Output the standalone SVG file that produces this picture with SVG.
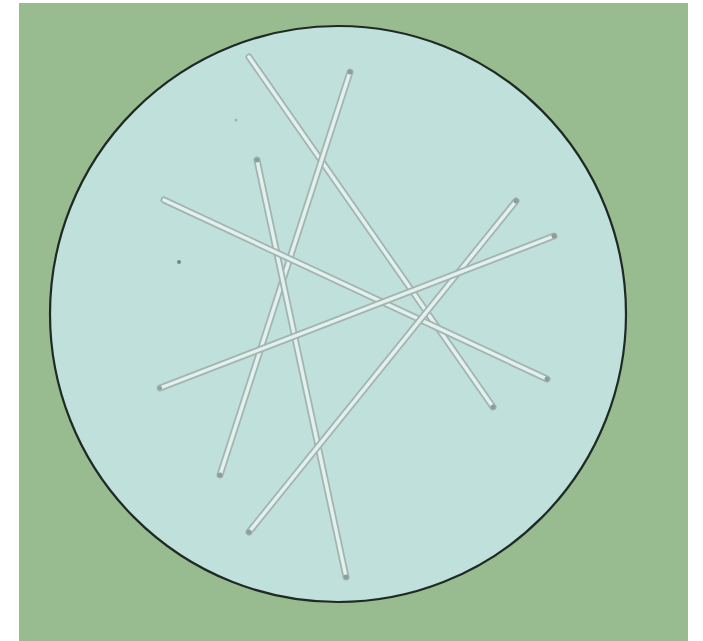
<svg xmlns="http://www.w3.org/2000/svg" width="703" height="641" viewBox="0 0 703 641">
<style>
.o{stroke:#a3b5b1;stroke-width:7;stroke-linecap:round}
.i{stroke:#e2f0ee;stroke-width:3.4;stroke-linecap:round}
.e{fill:#8a9e9a}
</style>
<rect width="703" height="641" fill="#ffffff"/>
<rect x="19" y="3" width="669" height="638" fill="#98bc8f"/>
<g id="plate">
<circle cx="338" cy="314" r="288" fill="#c0e0dc" stroke="#1f2a24" stroke-width="2.2"/>
<circle cx="236" cy="120" r="1.5" fill="#9fb5b0"/>
<circle cx="179" cy="262" r="2" fill="#6d8a84"/>
</g>
<g id="sticks">
<g id="s1"><line class="o" x1="249" y1="57" x2="493" y2="407"/><line class="i" x1="249" y1="57" x2="493" y2="407"/><circle class="e" cx="493" cy="407" r="2.5"/></g>
<g id="s2"><line class="o" x1="350" y1="72" x2="220" y2="475"/><line class="i" x1="350" y1="72" x2="220" y2="475"/><circle class="e" cx="350" cy="72" r="2.5"/><circle class="e" cx="220" cy="475" r="2.5"/></g>
<g id="s3"><line class="o" x1="257" y1="160" x2="346" y2="577"/><line class="i" x1="257" y1="160" x2="346" y2="577"/><circle class="e" cx="257" cy="160" r="2.5"/><circle class="e" cx="346" cy="577" r="2.5"/></g>
<g id="s4"><line class="o" x1="164" y1="200" x2="547" y2="379"/><line class="i" x1="164" y1="200" x2="547" y2="379"/><circle class="e" cx="547" cy="379" r="2.5"/></g>
<g id="s5"><line class="o" x1="516" y1="201" x2="249" y2="532"/><line class="i" x1="516" y1="201" x2="249" y2="532"/><circle class="e" cx="516" cy="201" r="2.5"/><circle class="e" cx="249" cy="532" r="2.5"/></g>
<g id="s6"><line class="o" x1="554" y1="236" x2="160" y2="388"/><line class="i" x1="554" y1="236" x2="160" y2="388"/><circle class="e" cx="554" cy="236" r="2.5"/><circle class="e" cx="160" cy="388" r="2"/></g>
</g>
</svg>
